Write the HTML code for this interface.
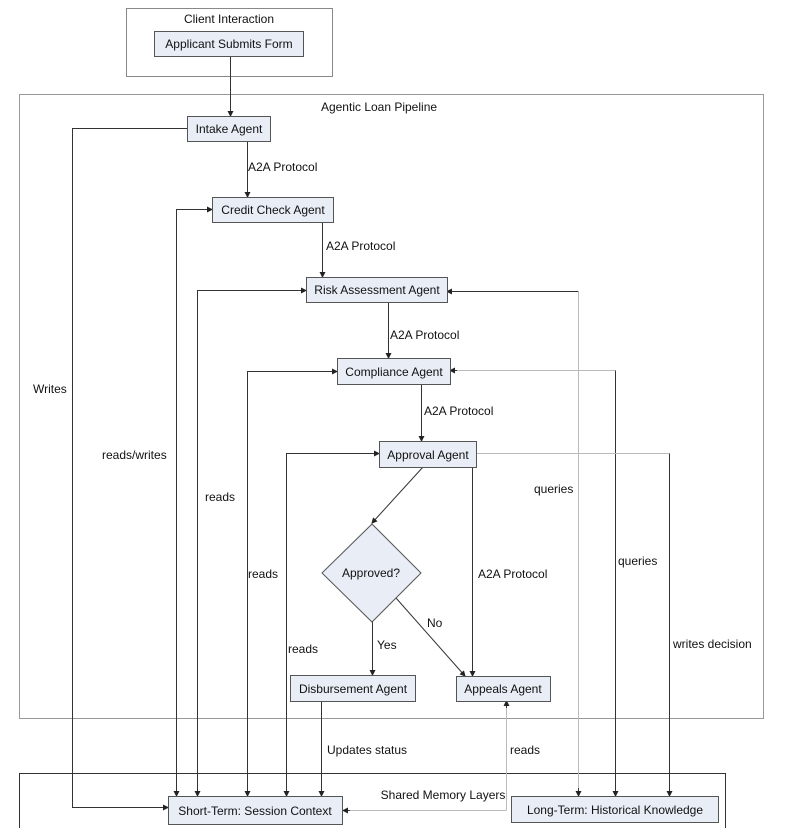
<!DOCTYPE html>
<html><head><meta charset="utf-8"><style>
html,body{margin:0;padding:0;background:#fff;}
svg{display:block;font-family:"Liberation Sans",sans-serif;font-size:12px;}
.n{fill:#e8edf6;stroke:#555;stroke-width:1;}
.l{stroke:#333;stroke-width:1;fill:none;}
.g{stroke:#bbb;stroke-width:1;fill:none;}
text{fill:#111;}
</style></head><body>
<svg width="790" height="828" viewBox="0 0 790 828" xmlns="http://www.w3.org/2000/svg">
<defs><marker id="a" markerWidth="6" markerHeight="6" refX="5" refY="3" orient="auto" markerUnits="userSpaceOnUse"><path d="M0,0 L6,3 L0,6z" fill="#222"/></marker></defs>
<rect x="126.5" y="8.5" width="206" height="68" fill="none" stroke="#888"/>
<text x="229" y="23" text-anchor="middle">Client Interaction</text>
<rect x="19.5" y="94.5" width="744" height="624" fill="none" stroke="#999"/>
<text x="379" y="111" text-anchor="middle">Agentic Loan Pipeline</text>
<path d="M19.5,828 V773.5 H725.5 V828" fill="none" stroke="#333"/>
<text x="443" y="799" text-anchor="middle">Shared Memory Layers</text>

<!-- connectors -->
<path class="l" d="M230.5,56 V116" marker-end="url(#a)"/>
<path class="l" d="M247.5,141 V197" marker-end="url(#a)"/>
<path class="l" d="M322.5,222 V277" marker-end="url(#a)"/>
<path class="l" d="M388.5,302 V358" marker-end="url(#a)"/>
<path class="l" d="M421.5,384 V441" marker-end="url(#a)"/>
<path class="l" d="M423,467 L372,523" marker-end="url(#a)"/>
<path class="l" d="M472.5,467 V676" marker-end="url(#a)"/>
<path class="l" d="M372.5,622 V675" marker-end="url(#a)"/>
<path class="l" d="M396,598 L465,676" marker-end="url(#a)"/>
<path class="l" d="M187,128.5 H72.5 V807.5 H168" marker-end="url(#a)"/>
<path class="l" d="M176.5,796 V209.5 H212" marker-end="url(#a)"/>
<path class="l" d="M176.5,700 V796" marker-end="url(#a)"/>
<path class="l" d="M197.5,796 V290.5 H306" marker-end="url(#a)"/>
<path class="l" d="M197.5,700 V796" marker-end="url(#a)"/>
<path class="l" d="M247.5,796 V371.5 H337" marker-end="url(#a)"/>
<path class="l" d="M247.5,700 V796" marker-end="url(#a)"/>
<path class="l" d="M286.5,796 V453.5 H379" marker-end="url(#a)"/>
<path class="l" d="M286.5,700 V796" marker-end="url(#a)"/>
<path class="l" d="M321.5,701 V796" marker-end="url(#a)"/>
<path class="g" d="M506.5,810.5 V701"/>
<path class="l" d="M506.5,708 V701" marker-end="url(#a)"/>
<path class="g" d="M506.5,810.5 H343"/>
<path class="l" d="M350,810.5 H343" marker-end="url(#a)"/>
<path class="l" d="M578.5,291.5 H447" marker-end="url(#a)"/>
<path class="g" d="M578.5,291.5 V796"/>
<path class="l" d="M578.5,788 V796" marker-end="url(#a)"/>
<path class="g" d="M615.5,370.5 H450"/>
<path class="l" d="M457,370.5 H450" marker-end="url(#a)"/>
<path class="l" d="M615.5,370.5 V796" marker-end="url(#a)"/>
<path class="g" d="M476,453.5 H669.5"/>
<path class="l" d="M669.5,453.5 V796" marker-end="url(#a)"/>

<!-- labels -->
<text x="248" y="171">A2A Protocol</text>
<text x="326" y="250">A2A Protocol</text>
<text x="390" y="339">A2A Protocol</text>
<text x="424" y="415">A2A Protocol</text>
<text x="478" y="578">A2A Protocol</text>
<text x="377" y="649">Yes</text>
<text x="427" y="627">No</text>
<text x="33" y="393">Writes</text>
<text x="102" y="459">reads/writes</text>
<text x="205" y="501">reads</text>
<text x="248" y="578">reads</text>
<text x="288" y="653">reads</text>
<text x="327" y="754">Updates status</text>
<text x="510" y="754">reads</text>
<text x="534" y="493">queries</text>
<text x="618" y="565">queries</text>
<text x="673" y="648">writes decision</text>

<!-- nodes -->
<rect class="n" x="154.5" y="31.5" width="149" height="25"/><text x="229" y="48" text-anchor="middle">Applicant Submits Form</text>
<rect class="n" x="187.5" y="116.5" width="83" height="25"/><text x="229" y="133" text-anchor="middle">Intake Agent</text>
<rect class="n" x="212.5" y="197.5" width="121" height="25"/><text x="273" y="214" text-anchor="middle">Credit Check Agent</text>
<rect class="n" x="306.5" y="277.5" width="141" height="25"/><text x="377" y="294" text-anchor="middle">Risk Assessment Agent</text>
<rect class="n" x="337.5" y="358.5" width="113" height="26"/><text x="394" y="376" text-anchor="middle">Compliance Agent</text>
<rect class="n" x="379.5" y="441.5" width="97" height="26"/><text x="428" y="459" text-anchor="middle">Approval Agent</text>
<path class="n" d="M372,524 L421,573 L372,622 L322,573z"/><text x="371" y="577" text-anchor="middle">Approved?</text>
<rect class="n" x="290.5" y="675.5" width="125" height="26"/><text x="353" y="693" text-anchor="middle">Disbursement Agent</text>
<rect class="n" x="456.5" y="676.5" width="94" height="25"/><text x="503" y="693" text-anchor="middle">Appeals Agent</text>
<rect class="n" x="168.5" y="796.5" width="174" height="28"/><text x="255" y="815" text-anchor="middle">Short-Term: Session Context</text>
<rect class="n" x="511.5" y="796.5" width="207" height="26"/><text x="615" y="814" text-anchor="middle">Long-Term: Historical Knowledge</text>
</svg>
</body></html>
